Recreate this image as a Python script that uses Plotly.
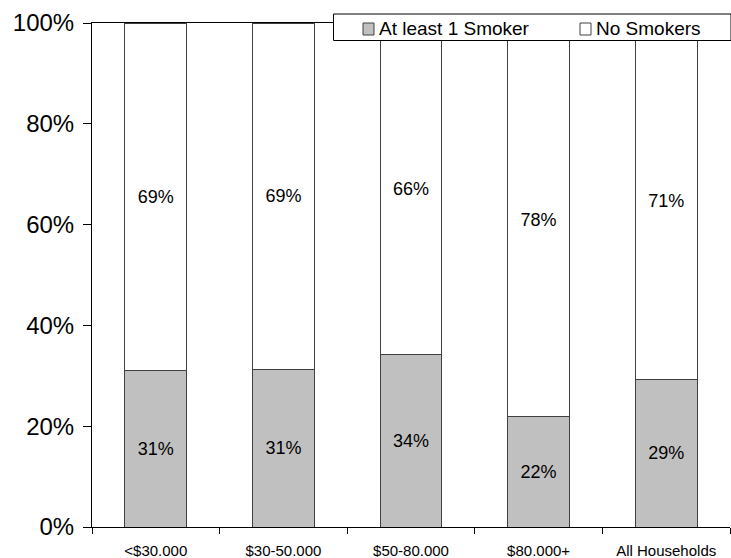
import plotly.graph_objects as go

categories = ["<$30.000", "$30-50.000", "$50-80.000", "$80.000+", "All Households"]
smoker = [31.1, 31.3, 34.2, 22.0, 29.3]
no_smoker = [68.9, 68.7, 65.8, 78.0, 70.7]
smoker_labels = ["31%", "31%", "34%", "22%", "29%"]
no_smoker_labels = ["69%", "69%", "66%", "78%", "71%"]
y_ticks = [0, 20, 40, 60, 80, 100]
y_tick_labels = ["0%", "20%", "40%", "60%", "80%", "100%"]
series_names = ["At least 1 Smoker", "No Smokers"]
series_colors = ["#c0c0c0", "white"]

FONT = "Liberation Sans, Arial, sans-serif"
W, H = 731, 558
ML, MR, MT, MB = 92, 1, 23, 31
PW, PH = W - ML - MR, H - MT - MB


def px_x(p):
    return (p - ML) / PW


def px_y(p):
    return (H - MB - p) / PH


fig = go.Figure()
for vals, labs, name, col in [(smoker, smoker_labels, series_names[0], series_colors[0]),
                              (no_smoker, no_smoker_labels, series_names[1], series_colors[1])]:
    fig.add_trace(go.Bar(
        x=categories, y=vals, name=name,
        marker=dict(color=col, line=dict(color="#404040", width=1)),
        text=labs, textposition="inside", insidetextanchor="middle",
        textfont=dict(size=18, color="black", family=FONT),
        showlegend=False,
    ))

# Manual legend box (white box overlapping the top of the plot)
shapes = [dict(type="rect", xref="paper", yref="paper",
               x0=px_x(333.5), x1=px_x(731), y0=px_y(40.5), y1=px_y(14),
               fillcolor="white", line=dict(color="black", width=1), layer="above")]
annotations = []
for sq_x, txt_x, name, col in [(363, 379, series_names[0], series_colors[0]),
                               (580, 596, series_names[1], series_colors[1])]:
    shapes.append(dict(type="rect", xref="paper", yref="paper",
                       x0=px_x(sq_x), x1=px_x(sq_x + 11), y0=px_y(35), y1=px_y(23),
                       fillcolor=col, line=dict(color="#404040", width=1), layer="above"))
    annotations.append(dict(text=name, xref="paper", yref="paper",
                            x=px_x(txt_x - 2), y=px_y(28.5), xanchor="left", yanchor="middle",
                            showarrow=False, font=dict(size=19, family=FONT, color="black")))

fig.update_layout(
    barmode="stack",
    bargap=0.515,
    width=W, height=H,
    margin=dict(l=ML, r=MR, t=MT, b=MB, pad=0, autoexpand=False),
    plot_bgcolor="white", paper_bgcolor="white",
    font=dict(family=FONT, color="black"),
    showlegend=False,
    shapes=shapes,
    annotations=annotations,
    xaxis=dict(
        showline=True, linecolor="black", linewidth=1, mirror=True,
        ticks="outside", tickson="boundaries", ticklen=6, tickcolor="black",
        tickfont=dict(size=15, family=FONT, color="black"),
        ticklabelstandoff=10, automargin=False,
        showgrid=False, zeroline=False,
    ),
    yaxis=dict(
        range=[0, 100], tickvals=y_ticks, ticktext=y_tick_labels,
        showline=True, linecolor="black", linewidth=1,
        ticks="outside", ticklen=8, tickcolor="black",
        tickfont=dict(size=24, family=FONT, color="black"),
        ticklabelstandoff=4, automargin=False,
        showgrid=False, zeroline=False,
    ),
)

fig.write_html("out.html", config={"displayModeBar": False},
               post_script="document.body.style.margin='0';document.body.style.overflow='hidden';")
